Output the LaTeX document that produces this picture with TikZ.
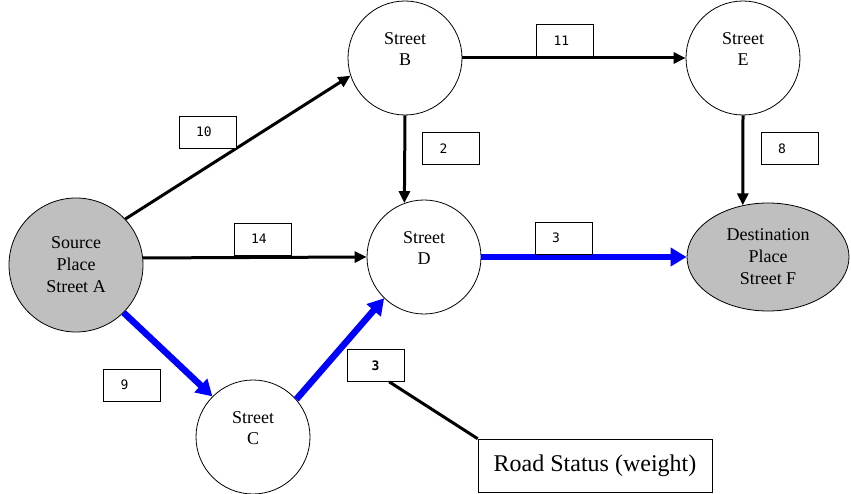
\documentclass[tikz,border=0pt]{standalone}
\usepackage{fontspec}
\setmainfont{Liberation Serif}
\newfontfamily\weightfont{DejaVu Sans Mono}
\usetikzlibrary{shapes.geometric,arrows.meta}

\tikzset{
    street/.style={circle, draw, line width=0.8pt, minimum size=114pt, inner sep=0pt},
    place/.style={ellipse, draw, line width=0.8pt, fill=black!25, inner sep=0pt, align=center, font=\fontsize{18}{22}\selectfont},
    streetname/.style={align=center, yshift=9pt, font=\fontsize{18}{21}\selectfont},
    weight/.style={draw, fill=white, semithick, minimum height=32pt, inner xsep=17pt, text width=23pt, align=left, font=\weightfont\fontsize{13}{15}\selectfont},
    road/.style={line width=3pt, -{Triangle[length=12pt,width=11pt]}},
    best/.style={line width=6.5pt, blue, -{Triangle[length=16pt,width=18pt]}}
}

\begin{document}
\begin{tikzpicture}[x=1pt, y=-1pt]
    \useasboundingbox (0,0) rectangle (851,494);

    \node[place, circle, minimum size=134pt] (A) at (76,265) {Source\\Place\\Street A};
    \node[street, label={[streetname]center:Street\\B}] (B) at (405,58) {};
    \node[street, label={[streetname]center:Street\\C}] (C) at (253,437) {};
    \node[street, label={[streetname]center:Street\\D}] (D) at (424,257) {};
    \node[street, label={[streetname]center:Street\\E}] (E) at (743,58) {};
    \node[place, minimum width=162pt, minimum height=108pt] (F) at (768,257) {Destination\\Place\\Street F};

    \draw[road] (A.43) -- (B.198);
    \draw[road] (A.6) -- (D.180);
    \draw[road] (B.south) -- (D.110);
    \draw[road] (B.east) -- (E.west);
    \draw[road] (E.south) -- (F.116);
    \draw[best] (A.-45) -- (C.135);
    \draw[best] (C.41) -- (D.226);
    \draw[best] (D.east) -- (F.west);

    \node[weight] (wAB) at (207.5,132) {10};
    \node[weight] (wBE) at (565,40.5) {11};
    \node[weight] (wBD) at (451,148.5) {2};
    \node[weight] (wEF) at (789.5,148.5) {8};
    \node[weight] (wAD) at (262.5,239) {14};
    \node[weight] (wDF) at (563.5,238) {3};
    \node[weight] (wAC) at (132,385) {9};

    \node[weight, align=center, font=\weightfont\bfseries\fontsize{13}{15}\selectfont] (leg) at (375.5,365.5) {3};
    \node[draw, semithick, minimum width=234pt, minimum height=53pt, font=\fontsize{24}{28}\selectfont] (status) at (595,465.5) {Road Status (weight)};
    \draw[line width=3pt] (leg.-50) -- (status.north west);
\end{tikzpicture}
\end{document}
